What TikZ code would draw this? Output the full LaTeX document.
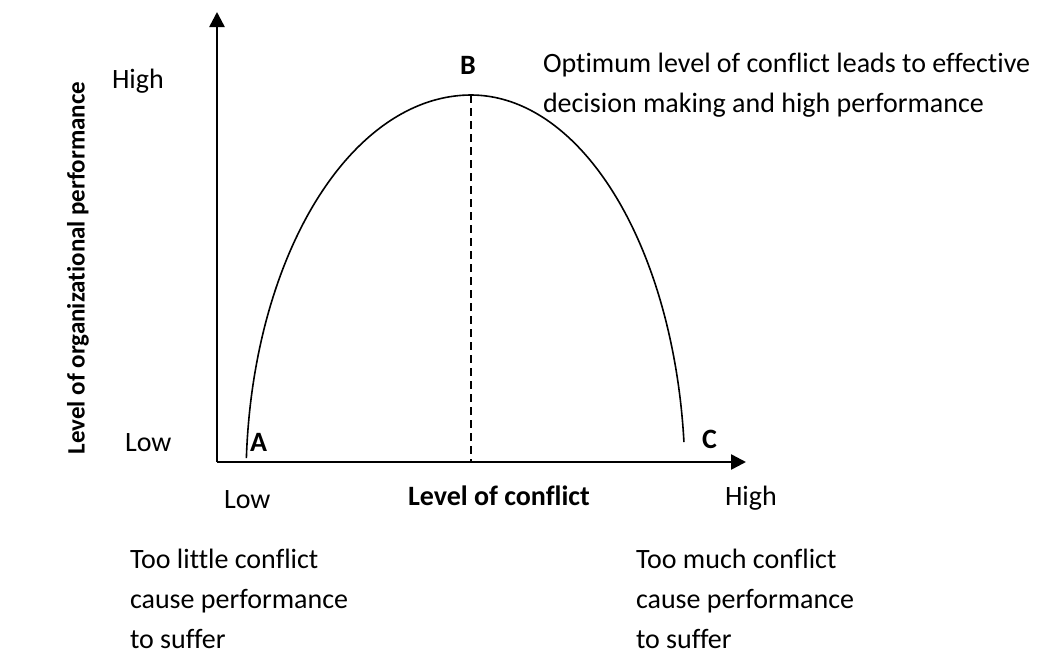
\documentclass[tikz,border=0pt]{standalone}
\usepackage{fontspec}
\setmainfont{Carlito}[Ligatures=NoCommon]
\usetikzlibrary{arrows.meta}

\begin{document}
\begin{tikzpicture}[x=1pt,y=-1pt,
  txt/.style={anchor=base west,inner sep=0pt,outer sep=0pt,font=\fontsize{28}{40}\selectfont},
  bold/.style={txt,font=\fontsize{28}{40}\selectfont\bfseries},
  axis/.style={line width=2.5pt,-{Triangle[length=15pt,width=15pt]}},
  curve/.style={line width=1.6pt},
  guide/.style={line width=2pt,dash pattern=on 8pt off 5pt}]
  \useasboundingbox (0,0) rectangle (1056,653);

  % axes
  \coordinate (O) at (217,462);
  \coordinate (ytop) at (217,12);
  \coordinate (xend) at (746,462);
  \draw[axis] (O) -- (ytop);
  \draw[axis] (O) -- (xend);

  % performance curve: two quarter ellipses meeting at the peak
  \coordinate (peak) at (471,95);
  \coordinate (peakfoot) at (471,462);
  \draw[curve] plot[domain=3.27:90,samples=80,smooth]
      ({471-225*cos(\x)},{480-385*sin(\x)})
    -- plot[domain=90:174.34,samples=80,smooth]
      ({471-214*cos(\x)},{480-385*sin(\x)});
  \draw[guide] (peak) -- (peakfoot);

  % axis value labels
  \node[txt] (yhigh) at (112,88) {High};
  \node[txt] (ylow) at (125,451) {Low};
  \node[txt] (xlow) at (224,508) {Low};
  \node[txt] (xhigh) at (725,505) {High};
  \node[bold] (xlabel) at (408,505) {Level of conflict};
  \node[inner sep=0pt,rotate=90,font=\fontsize{25}{30}\selectfont\bfseries]
    (ylabel) at (78,268) {Level of organizational performance};

  % points on the curve
  \node[bold] (A) at (250,451) {A};
  \node[bold] (B) at (460,74) {B};
  \node[bold] (C) at (702,448) {C};

  % explanations (base anchor sits on the last line)
  \node[txt,align=left] (optimum) at (543,112)
    {Optimum level of conflict leads to effective\\decision making and high performance};
  \node[txt,align=left] (toolittle) at (130,648)
    {Too little conflict\\cause performance\\to suffer};
  \node[txt,align=left] (toomuch) at (636,648)
    {Too much conflict\\cause performance\\to suffer};
\end{tikzpicture}
\end{document}
